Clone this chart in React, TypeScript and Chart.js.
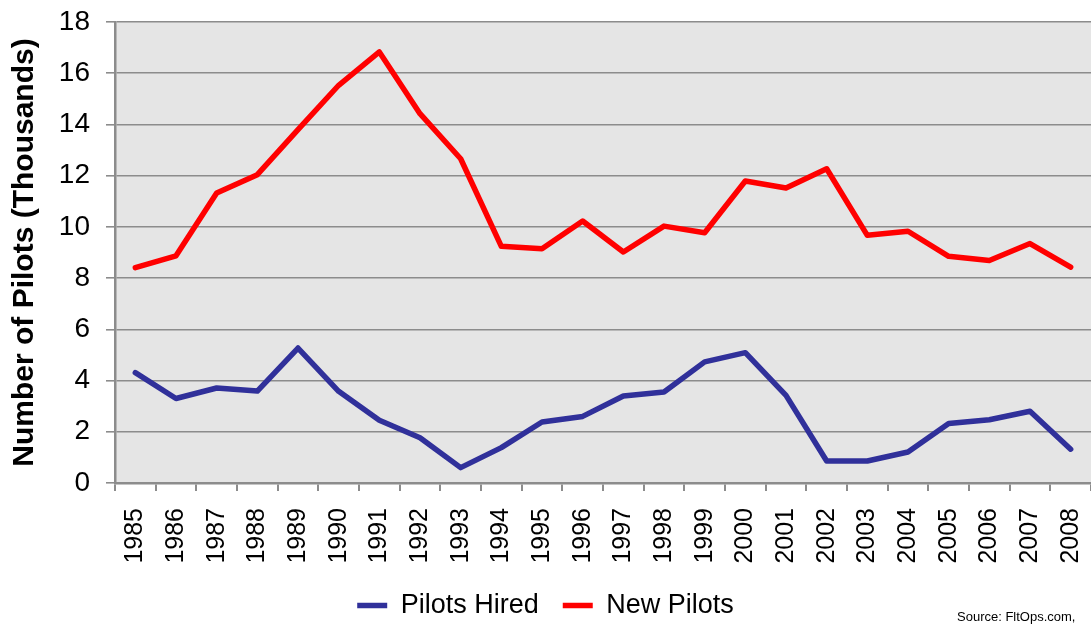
import React, { useEffect, useRef } from 'react';
import { Chart, registerables } from 'chart.js';

Chart.register(...registerables);

const years = ['1985', '1986', '1987', '1988', '1989', '1990', '1991', '1992', '1993', '1994', '1995', '1996', '1997', '1998', '1999', '2000', '2001', '2002', '2003', '2004', '2005', '2006', '2007', '2008'];
const pilotsHired = [4.31, 3.3, 3.71, 3.59, 5.27, 3.58, 2.45, 1.77, 0.6, 1.38, 2.38, 2.6, 3.4, 3.55, 4.73, 5.09, 3.42, 0.86, 0.86, 1.21, 2.32, 2.47, 2.8, 1.32];
const newPilots = [8.41, 8.87, 11.32, 12.04, 13.8, 15.53, 16.83, 14.42, 12.66, 9.24, 9.15, 10.23, 9.02, 10.03, 9.77, 11.79, 11.52, 12.27, 9.67, 9.83, 8.85, 8.69, 9.35, 8.43];
const yMin = 0;
const yMax = 18;
const yStep = 2;
const yTitle = 'Number of Pilots (Thousands)';
const sourceText = 'Source: FltOps.com,';

const FONT = '"Liberation Sans", Arial, sans-serif';
const GRID = '#8c8c8c';

const bgPlugin = {
  id: 'plotBg',
  beforeDraw(chart: any) {
    const { ctx, chartArea } = chart;
    ctx.save();
    ctx.fillStyle = '#e5e5e5';
    ctx.fillRect(chartArea.left, chartArea.top, chartArea.right - chartArea.left, chartArea.bottom - chartArea.top);
    ctx.restore();
  },
  afterDraw(chart: any) {
    const { ctx } = chart;
    ctx.save();
    ctx.font = '13px ' + FONT;
    ctx.fillStyle = '#000';
    ctx.textAlign = 'left';
    ctx.textBaseline = 'alphabetic';
    ctx.fillText(sourceText, 957, 621);
    ctx.restore();
  },
};

export default function App() {
  const ref = useRef<HTMLCanvasElement | null>(null);
  useEffect(() => {
    if (!ref.current) return;
    const chart = new Chart(ref.current, {
      type: 'line',
      data: {
        labels: years,
        datasets: [
          {
            label: 'Pilots Hired',
            data: pilotsHired,
            borderColor: '#30309a',
            backgroundColor: '#30309a',
            borderWidth: 5.5,
            pointRadius: 0,
            borderCapStyle: 'round',
            borderJoinStyle: 'round',
            tension: 0,
          },
          {
            label: 'New Pilots',
            data: newPilots,
            borderColor: '#ff0000',
            backgroundColor: '#ff0000',
            borderWidth: 5.5,
            pointRadius: 0,
            borderCapStyle: 'round',
            borderJoinStyle: 'round',
            tension: 0,
          },
        ],
      },
      options: {
        animation: false,
        responsive: false,
        maintainAspectRatio: false,
        layout: { padding: { top: 22, left: 0, right: 0, bottom: -5 } },
        plugins: {
          legend: {
            position: 'bottom',
            labels: {
              usePointStyle: true,
              pointStyle: 'line',
              pointStyleWidth: 30,
              color: '#000',
              font: { family: FONT, size: 27 },
              padding: 24,
            },
          },
          tooltip: { enabled: false },
        },
        scales: {
          x: {
            offset: true,
            grid: {
              offset: true,
              drawOnChartArea: false,
              drawTicks: true,
              tickLength: 8,
              color: GRID,
              lineWidth: 2,
            },
            border: { color: GRID, width: 2.5 },
            ticks: {
              minRotation: 90,
              maxRotation: 90,
              autoSkip: false,
              padding: 17,
              color: '#000',
              font: { family: FONT, size: 25 },
            },
            afterFit(scale: any) {
              scale.height = 85;
              scale.paddingLeft = 0;
              scale.paddingRight = 0;
            },
          },
          y: {
            min: yMin,
            max: yMax,
            grid: {
              color: GRID,
              lineWidth: 1.6,
              tickLength: 9,
            },
            border: { color: GRID, width: 2.5 },
            ticks: {
              stepSize: yStep,
              padding: 16,
              color: '#000',
              font: { family: FONT, size: 28 },
            },
            title: {
              display: true,
              text: yTitle,
              color: '#000',
              font: { family: FONT, size: 30, weight: 'bold' },
              padding: { top: 7, bottom: 0 },
            },
            afterFit(scale: any) {
              scale.width = 115;
              scale.paddingTop = 0;
              scale.paddingBottom = 0;
            },
          },
        },
      },
      plugins: [bgPlugin],
    } as any);
    return () => chart.destroy();
  }, []);
  return (
    <div style={{ position: 'absolute', left: 0, top: 0, width: 1091, height: 624 }}>
      <canvas ref={ref} width={1091} height={624} style={{ width: 1091, height: 624 }} />
    </div>
  );
}
